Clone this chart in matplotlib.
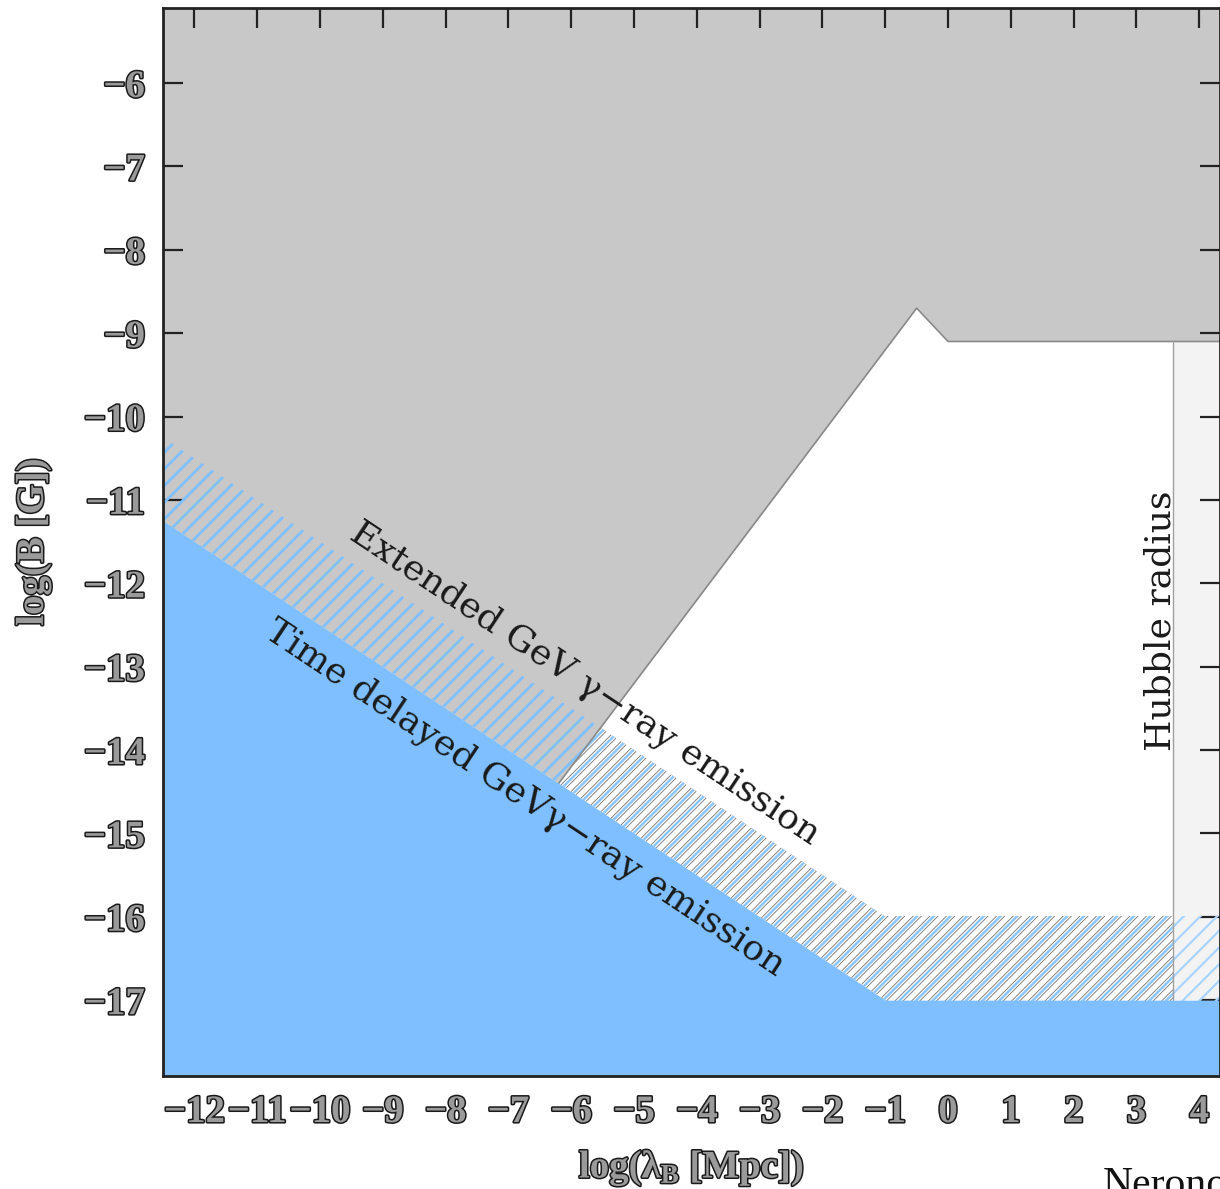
import numpy as np
import matplotlib.pyplot as plt
from matplotlib.patches import Polygon
import matplotlib.patheffects as pe

# exclusion boundary of the grey region (upper limits on B)
lam_edge = [-12.5, -6.2, -0.5, 0.0, 4.33]
B_edge = [-11.25, -14.4, -8.7, -9.1, -9.1]

# lower bound from time delayed emission
lam_td = [-12.5, -1.0, 4.33]
B_td = [-11.25, -17.0, -17.0]
band_width = 1.0          # hatched uncertainty band above the lower bound

lam_hubble = 3.58         # Hubble radius
B_hubble_top = -9.1

x_ticks = list(range(-12, 5))
y_ticks = list(range(-17, -5))
xlim = (-12.5, 4.33)
ylim = (-17.91, -5.1)

grey = '#c8c8c8'
blue = '#7fbfff'
hubble_col = '#f3f3f3'

plt.rcParams['mathtext.fontset'] = 'custom'
plt.rcParams['mathtext.rm'] = 'Liberation Serif:bold'
plt.rcParams['mathtext.it'] = 'Liberation Serif:bold'
plt.rcParams['mathtext.bf'] = 'Liberation Serif:bold'

DPI = 200
fig = plt.figure(figsize=(1220 / DPI, 1189 / DPI), dpi=DPI)
ax = fig.add_axes([163 / 1220, 1 - 1076 / 1189, 1 - 163 / 1220, 1068 / 1189])
ax.set_xlim(*xlim)
ax.set_ylim(*ylim)

ax.fill_between(lam_edge, B_edge, ylim[1], color=grey, lw=0, zorder=1)
ax.fill_between(lam_td, B_td, ylim[0], color=blue, lw=0, zorder=4)
ax.fill_between([lam_hubble, xlim[1]], [np.interp(lam_hubble, lam_td, B_td)] * 2,
                B_hubble_top, color=hubble_col, lw=0, zorder=1)

B_band = np.array(B_td) + band_width

# clip regions for the three hatch styles
grey_clip = Polygon(list(zip(lam_edge, B_edge)) + [(xlim[1], ylim[1]), (xlim[0], ylim[1])],
                    closed=True, transform=ax.transData)
white_pts = [(l, b) for l, b in zip(lam_edge, B_edge) if l < lam_hubble]
white_pts += [(lam_hubble, B_hubble_top), (lam_hubble, ylim[0]), (xlim[0], ylim[0])]
white_clip = Polygon(white_pts, closed=True, transform=ax.transData)
hubble_clip = Polygon([(lam_hubble, ylim[0]), (xlim[1], ylim[0]),
                       (xlim[1], B_hubble_top), (lam_hubble, B_hubble_top)],
                      closed=True, transform=ax.transData)


def hatch_band(hatch, color, lw, clip, z):
    with plt.rc_context({'hatch.linewidth': lw}):
        pc = ax.fill_between(lam_td, B_td, B_band, facecolor='none', edgecolor=color,
                             linewidth=0, hatch=hatch, zorder=z)
    if hasattr(pc, 'set_hatch_linewidth'):
        pc.set_hatch_linewidth(lw)
    pc.set_clip_path(clip)
    return pc


hatch_band('////', '#80c0ff', 1.0, grey_clip, 2)
hatch_band('////', '#7a7a7a', 2.4, white_clip, 2)
hatch_band('////', 'white', 1.75, white_clip, 2.1)
hatch_band('////', '#8cc6ff', 0.9, white_clip, 2.2)
hatch_band('////', '#a9d4ff', 0.8, hubble_clip, 2)

# outline of the allowed region
ax.plot(lam_edge[1:], B_edge[1:], color='#8a8a8a', lw=0.6, zorder=3)
ax.plot([lam_hubble, lam_hubble], [np.interp(lam_hubble, lam_td, B_td), B_hubble_top],
        color='#a0a0a0', lw=0.5, zorder=3)

# labels along the bounds
p0 = ax.transData.transform((lam_td[0], B_td[0]))
p1 = ax.transData.transform((lam_td[1], B_td[1]))
ang = np.degrees(np.arctan2(p1[1] - p0[1], p1[0] - p0[0]))
txt_kw = dict(family='DejaVu Serif', fontsize=13, color='#1a1a1a',
              ha='center', va='center', rotation=ang, rotation_mode='anchor', zorder=6)
ax.text(-5.78, -13.2, 'Extended GeV γ−ray emission', **txt_kw)
ax.text(-6.74, -14.57, 'Time delayed GeVγ−ray emission', **txt_kw)
ax.text(3.38, -12.45, 'Hubble radius', family='DejaVu Serif', fontsize=13,
        color='#1a1a1a', ha='center', va='center', rotation=90, zorder=6)

# axes styling
outline = [pe.withStroke(linewidth=1.1, foreground='#1a1a1a')]
lab_kw = dict(family='Liberation Serif', fontweight='bold', fontsize=14, color='#9a9a9a')

ax.set_xticks(x_ticks)
ax.set_yticks(y_ticks)
ax.set_xticklabels([str(v).replace('-', '\u2212') for v in x_ticks], **lab_kw)
ax.set_yticklabels([str(v).replace('-', '\u2212') for v in y_ticks], **lab_kw)
for t in ax.get_xticklabels() + ax.get_yticklabels():
    t.set_path_effects(outline)
ax.tick_params(direction='in', length=7.2, width=0.8, color='#222',
               top=True, right=True, pad=6.5)
for s in ax.spines.values():
    s.set_linewidth(1.0)
    s.set_color('#222')
    s.set_zorder(7)

ax.set_xlabel(r'log($\lambda_{\rm B}$ [Mpc])', labelpad=6, **lab_kw)
ax.set_ylabel('log(B [G])', labelpad=11.5, **lab_kw)
ax.xaxis.label.set_path_effects(outline)
ax.yaxis.label.set_path_effects(outline)

fig.text(1103 / 1220, 1 - 1166 / 1189, 'Neronov', family='Liberation Serif',
         fontsize=15, color='#111', ha='left', va='top')

fig.savefig('out.png', dpi=DPI)
